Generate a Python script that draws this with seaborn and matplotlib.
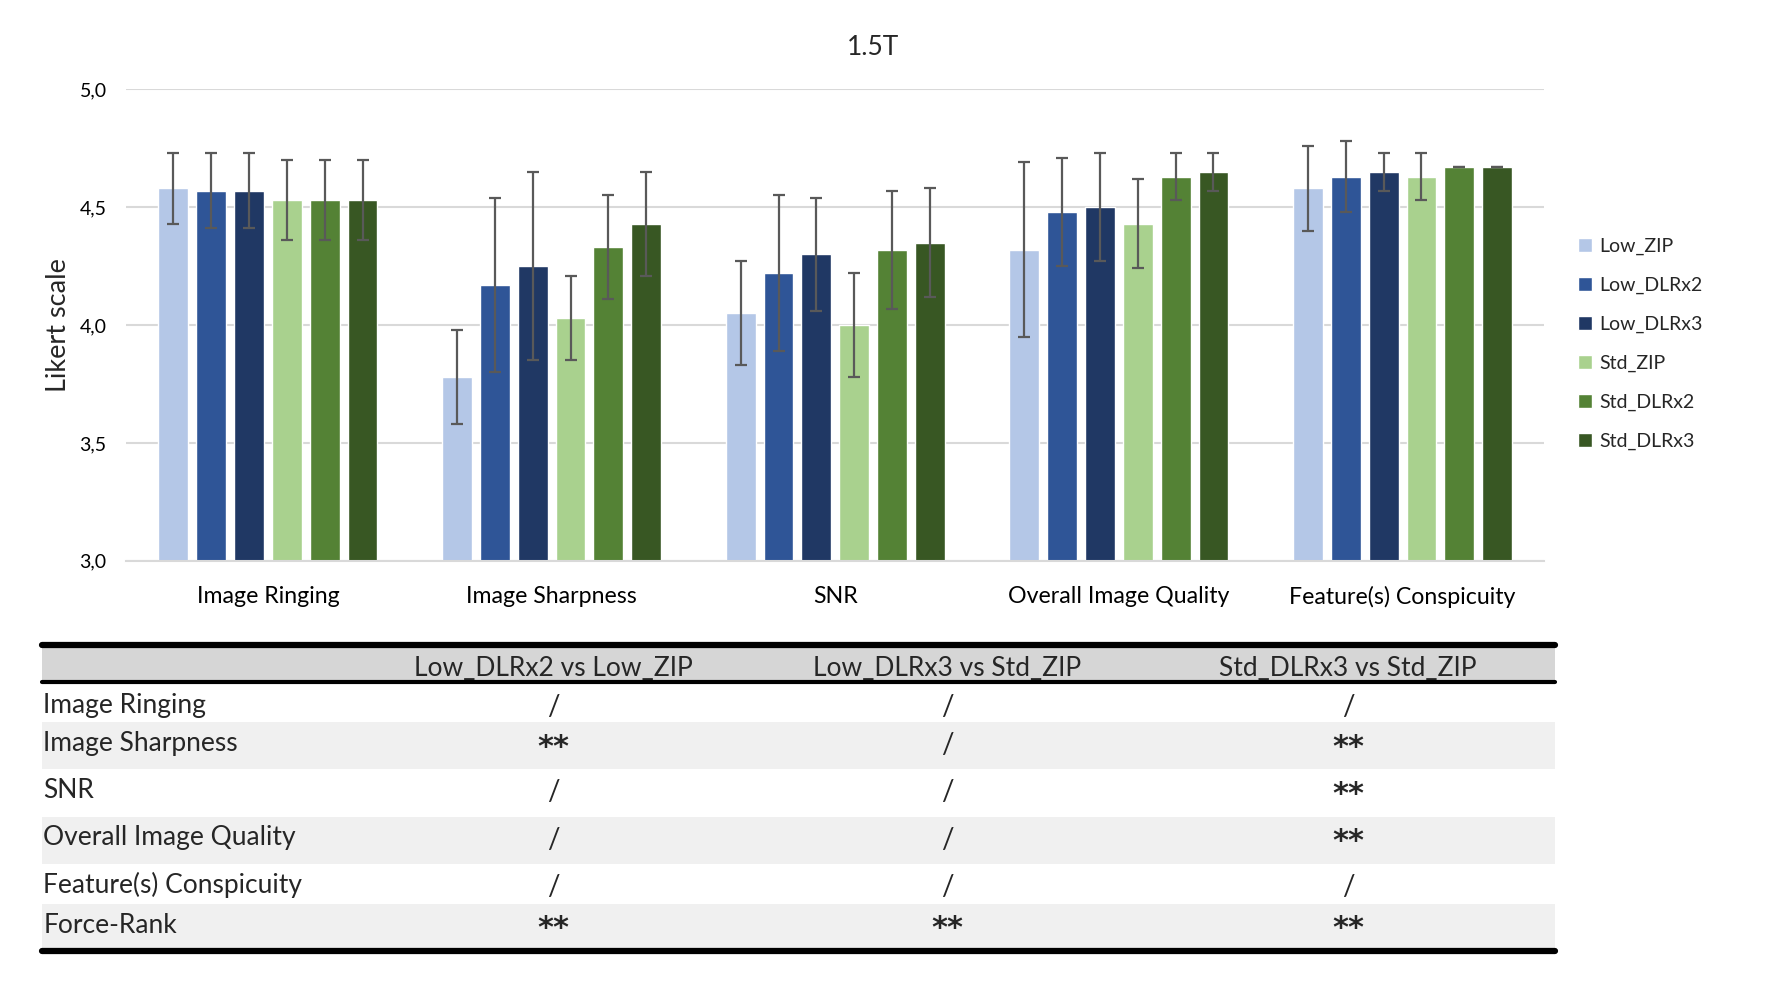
import matplotlib
matplotlib.use("Agg")
import matplotlib.pyplot as plt
import numpy as np
import pandas as pd
import seaborn as sns
from matplotlib.patches import Rectangle

# chart data
CATEGORIES = ["Image Ringing", "Image Sharpness", "SNR", "Overall Image Quality", "Feature(s) Conspicuity"]
SERIES = ["Low_ZIP", "Low_DLRx2", "Low_DLRx3", "Std_ZIP", "Std_DLRx2", "Std_DLRx3"]

LOW_ZIP = [4.58, 3.78, 4.05, 4.32, 4.58]
LOW_DLRX2 = [4.57, 4.17, 4.22, 4.48, 4.63]
LOW_DLRX3 = [4.57, 4.25, 4.30, 4.50, 4.65]
STD_ZIP = [4.53, 4.03, 4.00, 4.43, 4.63]
STD_DLRX2 = [4.53, 4.33, 4.32, 4.63, 4.67]
STD_DLRX3 = [4.53, 4.43, 4.35, 4.65, 4.67]

LOW_ZIP_SD = [0.15, 0.20, 0.22, 0.37, 0.18]
LOW_DLRX2_SD = [0.16, 0.37, 0.33, 0.23, 0.15]
LOW_DLRX3_SD = [0.16, 0.40, 0.24, 0.23, 0.08]
STD_ZIP_SD = [0.17, 0.18, 0.22, 0.19, 0.10]
STD_DLRX2_SD = [0.17, 0.22, 0.25, 0.10, 0.0]
STD_DLRX3_SD = [0.17, 0.22, 0.23, 0.08, 0.0]

COLORS = ["#B4C7E7", "#2F5597", "#203864", "#A9D18E", "#548235", "#385723"]

# significance table
TABLE_HEADERS = ["Low_DLRx2 vs Low_ZIP", "Low_DLRx3 vs Std_ZIP", "Std_DLRx3 vs Std_ZIP"]
TABLE_ROWS = ["Image Ringing", "Image Sharpness", "SNR", "Overall Image Quality",
              "Feature(s) Conspicuity", "Force-Rank"]
COL_LOW_DLRX2 = ["/", "**", "/", "/", "/", "**"]
COL_LOW_DLRX3 = ["/", "/", "/", "/", "/", "**"]
COL_STD_DLRX3 = ["/", "**", "**", "**", "/", "**"]

# layout of the table (figure fraction, measured from the top)
ROW_EDGES = [0.657, 0.695, 0.735, 0.783, 0.832, 0.880, 0.921, 0.968]
ROW_TEXT_Y = [0.718, 0.757, 0.805, 0.853, 0.901, 0.942]
HEADER_TEXT_Y = 0.681
TABLE_LEFT, TABLE_RIGHT = 0.0235, 0.880
COL_CENTERS = [0.313, 0.536, 0.763]


def main() -> None:
    sns.set_theme(style="white")
    plt.rcParams["font.family"] = ["Lato", "DejaVu Sans"]

    means = [LOW_ZIP, LOW_DLRX2, LOW_DLRX3, STD_ZIP, STD_DLRX2, STD_DLRX3]
    sds = [LOW_ZIP_SD, LOW_DLRX2_SD, LOW_DLRX3_SD, STD_ZIP_SD, STD_DLRX2_SD, STD_DLRX3_SD]

    df = pd.DataFrame(
        [
            {"category": cat, "series": name, "score": val}
            for name, vals in zip(SERIES, means)
            for cat, val in zip(CATEGORIES, vals)
        ]
    )

    fig = plt.figure(figsize=(17.67, 9.82), dpi=100)
    ax = fig.add_axes([0.0714, 0.429, 0.8026, 0.480])

    sns.barplot(
        data=df,
        x="category",
        y="score",
        hue="series",
        order=CATEGORIES,
        hue_order=SERIES,
        palette=COLORS,
        errorbar=None,
        width=0.8,
        gap=0.21,
        saturation=1,
        ax=ax,
    )

    for container, sd in zip(ax.containers, sds):
        for bar, err in zip(container, sd):
            ax.errorbar(
                bar.get_x() + bar.get_width() / 2,
                bar.get_height(),
                yerr=err,
                color="#595959",
                elinewidth=1.6,
                capsize=4,
                capthick=1.6,
                zorder=5,
            )

    ax.set_xlim(-0.5, len(CATEGORIES) - 0.5)
    ax.set_ylim(3, 5)
    ax.set_yticks([3.0, 3.5, 4.0, 4.5, 5.0])
    ax.set_yticklabels(["3,0", "3,5", "4,0", "4,5", "5,0"])
    ax.yaxis.grid(True, color="#D9D9D9", linewidth=1.5)
    ax.set_axisbelow(True)
    for side in ["top", "right", "left"]:
        ax.spines[side].set_visible(False)
    ax.spines["bottom"].set_color("#D9D9D9")
    ax.spines["bottom"].set_linewidth(1.5)
    ax.tick_params(axis="both", length=0, labelsize=14, colors="black")
    ax.tick_params(axis="y", pad=14)
    ax.tick_params(axis="x", labelsize=16.7, pad=18)
    ax.set_xlabel("")
    ax.set_ylabel("Likert scale", fontsize=19.5, labelpad=6)
    fig.text(0.494, 0.952, "1.5T", ha="center", va="center", fontsize=19)

    handles, labels = ax.get_legend_handles_labels()
    ax.legend_.remove()
    fig.legend(
        handles,
        labels,
        loc="upper left",
        bbox_to_anchor=(0.883, 0.776),
        frameon=False,
        fontsize=14,
        handlelength=0.75,
        handleheight=0.75,
        handletextpad=0.38,
        labelspacing=1.12,
    )

    # significance table drawn on a full-figure overlay
    tab = fig.add_axes([0, 0, 1, 1])
    tab.set_xlim(0, 1)
    tab.set_ylim(1, 0)
    tab.axis("off")

    fills = ["#D6D6D6", "white", "#F0F0F0", "white", "#F0F0F0", "white", "#F0F0F0"]
    for top, bottom, fill in zip(ROW_EDGES[:-1], ROW_EDGES[1:], fills):
        tab.add_patch(Rectangle((TABLE_LEFT, top), TABLE_RIGHT - TABLE_LEFT, bottom - top,
                                facecolor=fill, edgecolor="none"))

    tab.plot([TABLE_LEFT, TABLE_RIGHT], [ROW_EDGES[0], ROW_EDGES[0]], color="black", lw=4.5)
    tab.plot([TABLE_LEFT, TABLE_RIGHT], [ROW_EDGES[1], ROW_EDGES[1]], color="black", lw=3)
    tab.plot([TABLE_LEFT, TABLE_RIGHT], [ROW_EDGES[-1], ROW_EDGES[-1]], color="black", lw=4.5)

    for x, header in zip(COL_CENTERS, TABLE_HEADERS):
        tab.text(x, HEADER_TEXT_Y, header, ha="center", va="center", fontsize=19)

    columns = [COL_LOW_DLRX2, COL_LOW_DLRX3, COL_STD_DLRX3]
    for i, (row, y) in enumerate(zip(TABLE_ROWS, ROW_TEXT_Y)):
        tab.text(TABLE_LEFT + 0.001, y, row, ha="left", va="center", fontsize=19)
        for x, col in zip(COL_CENTERS, columns):
            mark = col[i]
            if mark == "**":
                tab.text(x, y + 0.004, mark, ha="center", va="center", fontsize=22,
                         fontweight="bold", family="DejaVu Sans")
            else:
                tab.text(x, y + 0.002, mark, ha="center", va="center", fontsize=20)

    fig.savefig("out.png", dpi=100)
    plt.close(fig)


if __name__ == "__main__":
    main()
